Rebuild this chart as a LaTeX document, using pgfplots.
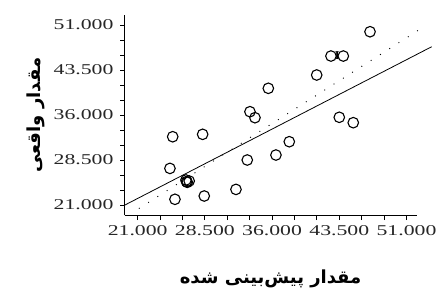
\documentclass[border=0pt]{standalone}
\usepackage{pgfplots}
\pgfplotsset{compat=1.18}
\usepackage{fontspec}
\setmainfont{Liberation Serif}
\newfontfamily\tickfont[FakeStretch=1.45]{Liberation Serif}
\newfontfamily\arabicfont[Script=Arabic]{DejaVu Sans}
\TeXXeTstate=1

\pgfplotstableread{
x y
24.91 32.38
28.25 32.78
24.60 27.10
26.39 25.17
26.54 24.78
26.75 25.00
26.45 24.90
25.16 21.95
28.43 22.50
31.97 23.60
33.23 28.50
33.53 36.55
34.09 35.55
35.58 40.45
36.43 29.33
37.92 31.55
40.98 42.67
42.57 45.83
43.95 45.83
43.50 35.62
45.06 34.72
46.93 49.88
}\pointdata

\begin{document}
\begin{tikzpicture}
\path[use as bounding box] (0,0) rectangle (438bp,291bp);
\begin{axis}[
  at={(124.5bp,75.5bp)}, anchor=south west,
  scale only axis, width=292.2bp, height=200.5bp,
  xmin=19.53, xmax=52.14, ymin=19.25, ymax=52.67,
  axis lines=left,
  axis line style={-, line width=0.9bp, black},
  xtick={21,28.5,36,43.5,51}, ytick={21,28.5,36,43.5,51},
  minor tick num=2,
  tick align=outside,
  major tick length=4.5bp, minor tick length=4.5bp,
  tick style={black, line width=0.8bp},
  /pgf/number format/fixed,
  /pgf/number format/fixed zerofill,
  /pgf/number format/precision=3,
  /pgf/number format/assume math mode=true,
  ticklabel style={font=\tickfont\fontsize{15bp}{15bp}\selectfont, text=black!85},
  yticklabel style={xshift=-3bp},
  xticklabel style={yshift=-2bp},
  xlabel={\arabicfont\bfseries\beginR مقدار پیش‌بینی شده\endR},
  ylabel={\arabicfont\bfseries\beginR مقدار واقعی\endR},
  label style={font=\fontsize{18bp}{18bp}\selectfont},
  xlabel style={at={(axis description cs:0.5,0)}, anchor=center, yshift=-63bp},
  ylabel style={at={(axis description cs:0,0.5)}, anchor=center, rotate=0, yshift=89bp},
  clip=false,
]
\addplot[black, line width=0.8bp] coordinates {(19.58,21.0) (53.81,47.38)};
\addplot[black, line width=1.3bp, dash pattern=on 0pt off 11bp, line cap=round] coordinates {(21.18,20.45) (53.06,50.83)};
\addplot[only marks, mark=o, mark size=5.3bp, black, line width=1.1bp] table[x=x,y=y] {\pointdata};
\node[font=\bfseries\fontsize{12bp}{12bp}\selectfont] at (axis cs:43.27,45.83) {I};
\end{axis}
\end{tikzpicture}
\end{document}
